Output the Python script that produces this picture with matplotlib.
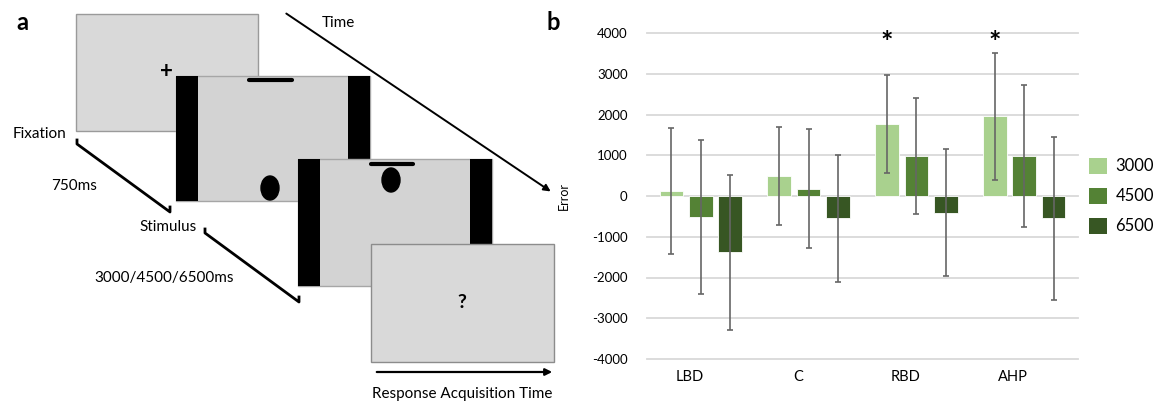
import numpy as np
import matplotlib
matplotlib.use("Agg")
from matplotlib import pyplot as plt
from matplotlib.patches import Rectangle, Ellipse, Patch

plt.rcParams['font.family'] = ['Lato', 'DejaVu Sans']

# data for panel b
groups = ["LBD", "C", "RBD", "AHP"]
series = ["3000", "4500", "6500"]
mean_3000 = [120, 490, 1775, 1960]
mean_4500 = [-525, 180, 980, 980]
mean_6500 = [-1380, -550, -410, -550]
err_3000 = [1550, 1200, 1200, 1560]
err_4500 = [1890, 1460, 1430, 1745]
err_6500 = [1900, 1550, 1560, 2000]
yticks = [-4000, -3000, -2000, -1000, 0, 1000, 2000, 3000, 4000]
signif = [False, False, True, True]

colors = ["#a9d18e", "#548235", "#375623"]

fig = plt.figure(figsize=(11.63, 4.04), dpi=100)

# panel a drawn in pixel coords
ax0 = fig.add_axes([0, 0, 1, 1])
ax0.set_xlim(0, 1163)
ax0.set_ylim(404, 0)
ax0.axis("off")

def screen(x0, y0, x1, y1, fc, ec, bars=False, bar_w=22):
    ax0.add_patch(Rectangle((x0, y0), x1 - x0, y1 - y0, facecolor=fc, edgecolor=ec, lw=1))
    if bars:
        ax0.add_patch(Rectangle((x0, y0), bar_w, y1 - y0, facecolor="black", edgecolor="none"))
        ax0.add_patch(Rectangle((x1 - bar_w, y0), bar_w, y1 - y0, facecolor="black", edgecolor="none"))

# fixation screen
screen(76, 14, 258, 131, "#d9d9d9", "#9a9a9a")
ax0.text(166, 72, "+", fontsize=16, fontweight="bold", ha="center", va="center")

# stimulus screens
screen(176, 76, 370, 201, "#d3d3d3", "#a6a6a6", bars=True)
ax0.plot([249, 292], [80, 80], color="black", lw=3, solid_capstyle="round")
ax0.add_patch(Ellipse((270, 188), 18, 24, color="black"))

screen(298, 159, 492, 286, "#d3d3d3", "#a6a6a6", bars=True)
ax0.plot([371, 413], [164, 164], color="black", lw=3, solid_capstyle="round")
ax0.add_patch(Ellipse((391, 180), 18, 24, color="black"))

# response screen
screen(371, 244, 554, 362, "#d9d9d9", "#8c8c8c")
ax0.text(462, 303, "?", fontsize=14, fontweight="bold", ha="center", va="center")

ax0.annotate("", xy=(555, 372), xytext=(374, 372),
             arrowprops=dict(arrowstyle="-|>", color="black", lw=1.6, mutation_scale=10))
ax0.text(462, 394, "Response Acquisition Time", fontsize=11, ha="center", va="center")

ax0.annotate("", xy=(553, 193), xytext=(284, 12),
             arrowprops=dict(arrowstyle="-|>", color="black", lw=1.4, mutation_scale=10))
ax0.text(338, 23, "Time", fontsize=11, ha="center", va="center")

# brackets
for (xa, ya, xb, yb) in [(77, 144, 170, 212), (205, 233, 299, 302)]:
    ax0.plot([xa, xa, xb, xb], [ya - 4, ya, yb, yb - 5], color="black", lw=2)

ax0.text(40, 134, "Fixation", fontsize=11, ha="center", va="center")
ax0.text(74, 186, "750ms", fontsize=11, ha="center", va="center")
ax0.text(168, 227, "Stimulus", fontsize=11, ha="center", va="center")
ax0.text(164, 278, "3000/4500/6500ms", fontsize=11, ha="center", va="center")

ax0.text(22, 23, "a", fontsize=17, fontweight="bold", ha="center", va="center")
ax0.text(553, 23, "b", fontsize=17, fontweight="bold", ha="center", va="center")

# panel b bar chart
ax = fig.add_axes([647 / 1163, 45 / 404, 431 / 1163, 326 / 404])
x = np.arange(len(groups))
w = 0.22
step = 0.273
means = [mean_3000, mean_4500, mean_6500]
errs = [err_3000, err_4500, err_6500]
for i in range(3):
    ax.bar(x + (i - 1) * step, means[i], w, color=colors[i], edgecolor="white", lw=0.6,
           zorder=2, label=series[i])
    ax.errorbar(x + (i - 1) * step, means[i], yerr=errs[i], fmt="none", ecolor="#666666",
                elinewidth=1.2, capsize=2.5, capthick=1.2, zorder=3)

for v in yticks:
    ax.axhline(v, color="#d9d9d9", lw=1.3, zorder=0, clip_on=False)

for i, s in enumerate(signif):
    if s:
        ax.text(x[i] - step, 3750, "*", fontsize=21, fontweight="bold", ha="center", va="center")

ax.set_xlim(-0.5, 3.5)
ax.set_ylim(-4000, 4000)
ax.set_yticks(yticks)
ax.set_yticklabels([str(v) for v in yticks], fontsize=9.5)
ax.set_xticks(x - 0.1)
ax.set_xticklabels(groups, fontsize=10.5)
ax.tick_params(length=0, pad=8)
ax.tick_params(axis="y", pad=14)
for sp in ax.spines.values():
    sp.set_visible(False)
ax.set_ylabel("Error", fontsize=9, labelpad=16)

handles = [Patch(facecolor=c, edgecolor="none") for c in colors]
ax.legend(handles, series, frameon=False, fontsize=12, loc="center left",
          bbox_to_anchor=(0.99, 0.5), handlelength=1.1, handleheight=1.1,
          labelspacing=0.8, handletextpad=0.5)

plt.savefig("out.png", dpi=100)
